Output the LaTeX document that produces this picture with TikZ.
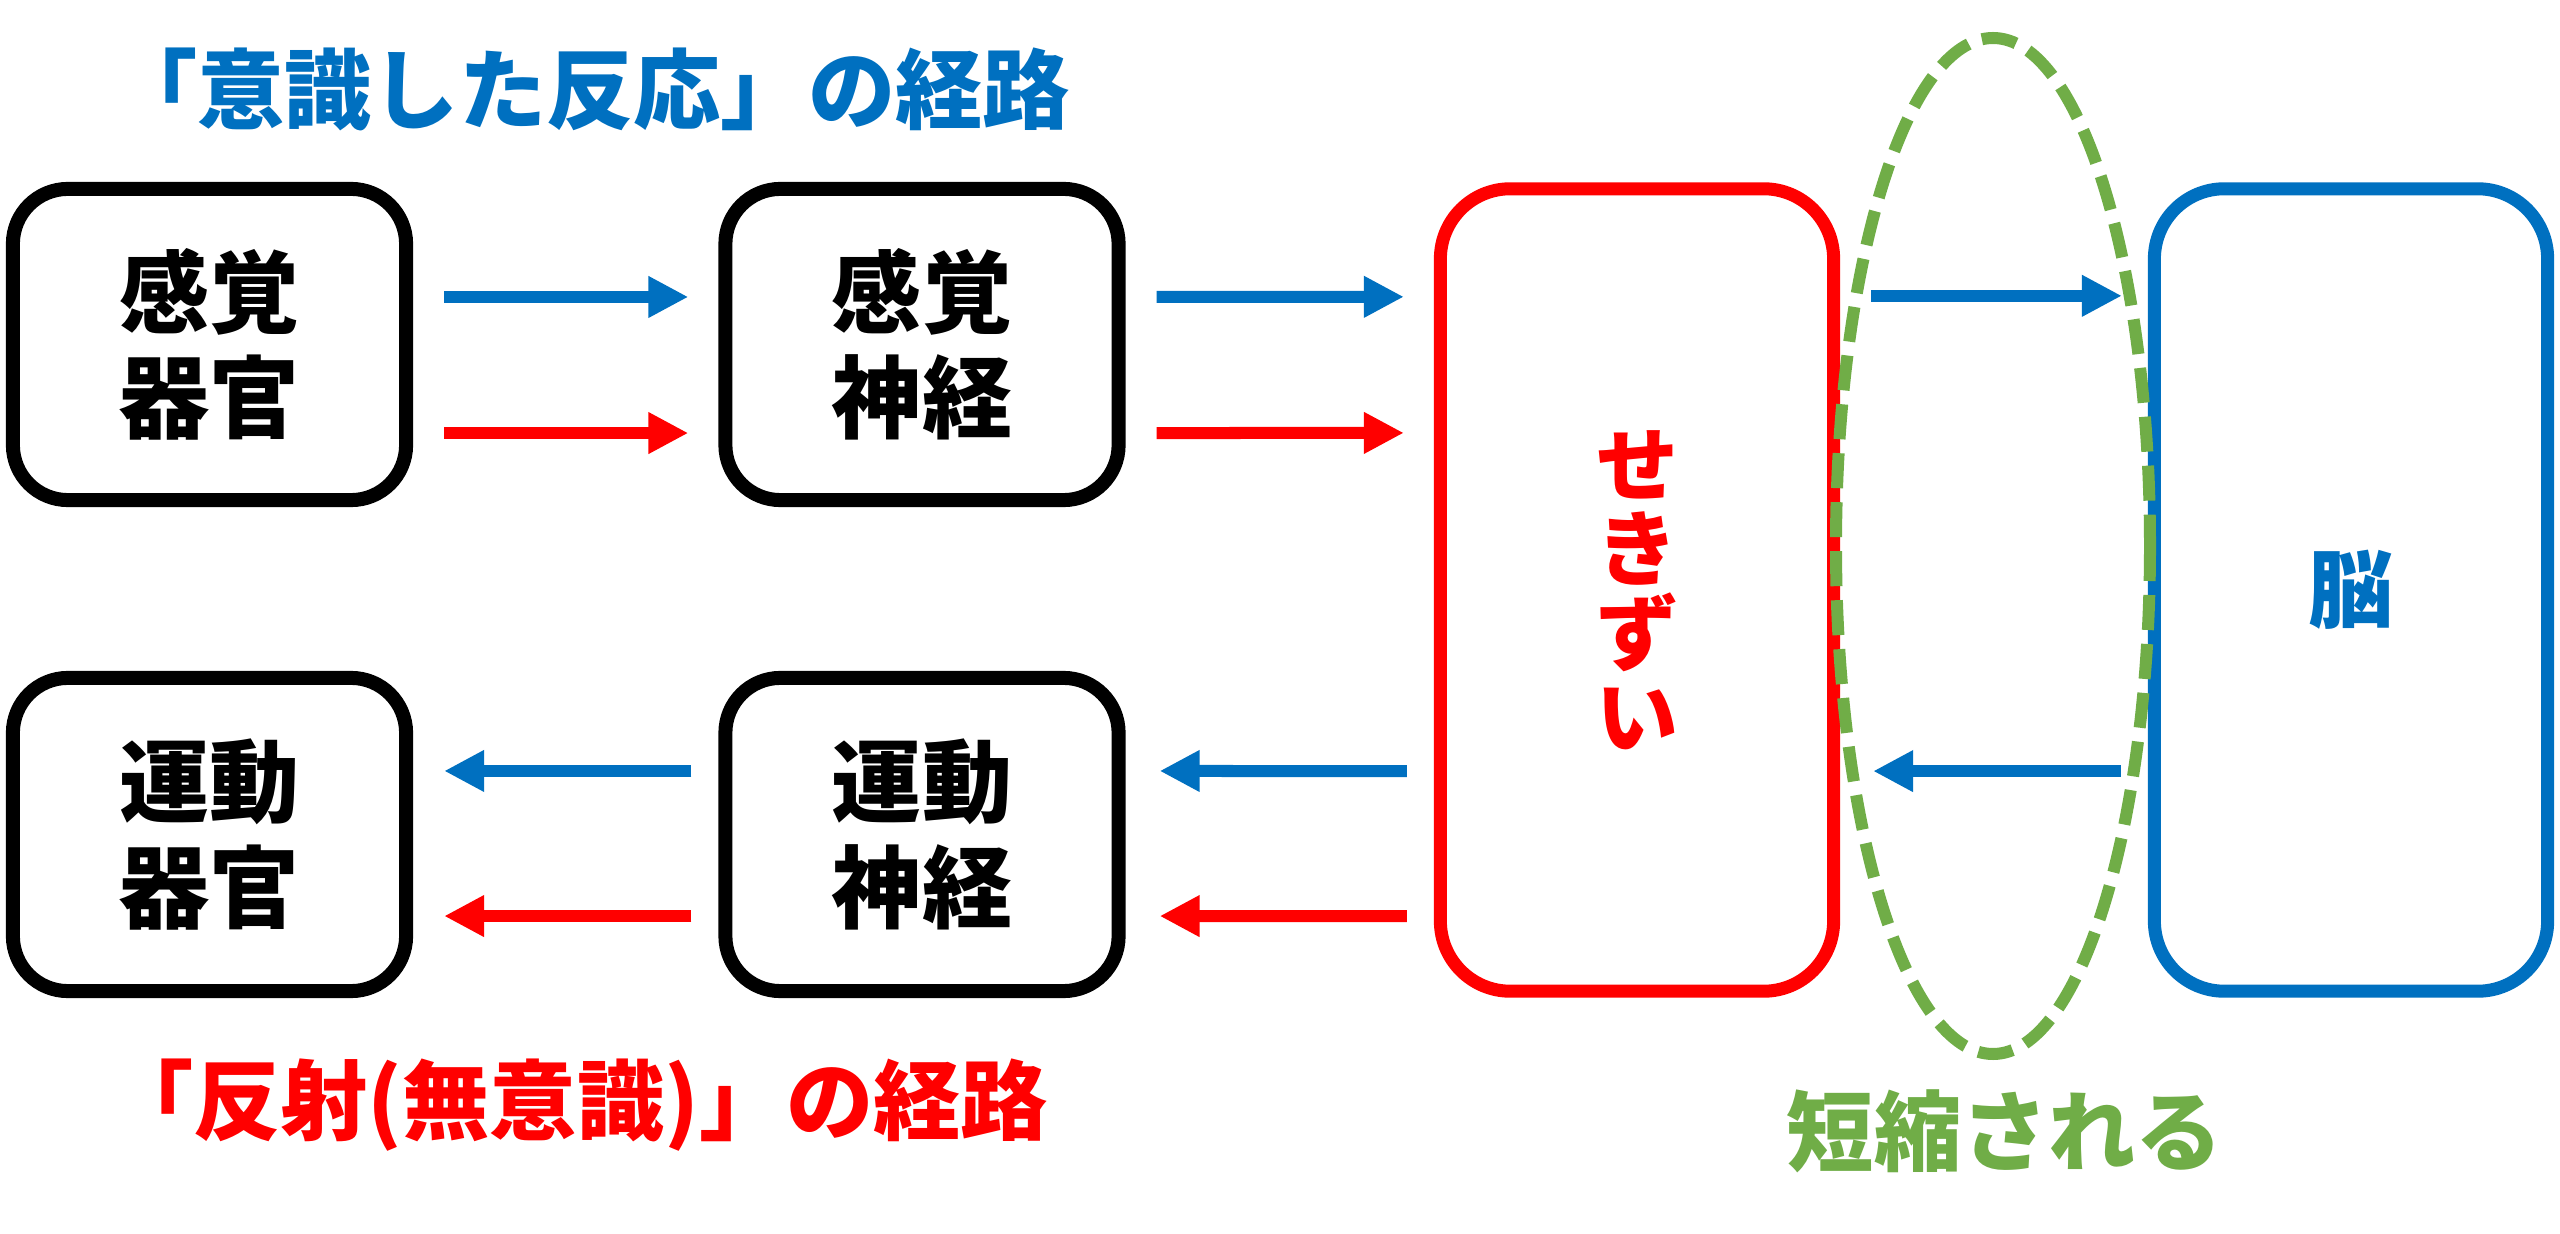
\documentclass[tikz,border=0pt]{standalone}
\usepackage{fontspec}
\newfontfamily\jp{Noto Sans CJK JP}
\usetikzlibrary{arrows.meta}
\definecolor{oblue}{RGB}{0,112,192}
\definecolor{ored}{RGB}{255,0,0}
\definecolor{ogreen}{RGB}{112,173,71}
\tikzset{
  box/.style={draw, line width=0.14cm, rounded corners=0.55cm, minimum width=3.93cm, minimum height=3.11cm, inner sep=0pt, align=center, font=\jp\bfseries\fontsize{25.6pt}{29.9pt}\selectfont},
  bigbox/.style={draw, line width=0.13cm, rounded corners=0.7cm, minimum width=3.93cm, minimum height=8.02cm, inner sep=0pt, align=center},
  conn/.style={line width=0.12cm, -{Triangle[length=0.40cm,width=0.39cm]}},
  barrow/.style={conn, oblue},
  rarrow/.style={conn, ored},
  caption/.style={inner sep=0pt, font=\jp\bfseries\fontsize{24.8pt}{28pt}\selectfont}
}
\begin{document}
\begin{tikzpicture}[x=0.01cm,y=-0.01cm]
\fill[white] (0,0) rectangle (2560,1234);
\useasboundingbox (0,0) rectangle (2560,1234);

\node[box] (so) at (209.5,344.5) {感覚\\器官};
\node[box] (sn) at (922,344.5) {感覚\\神経};
\node[box, minimum height=3.13cm] (mo) at (209.5,834.5) {運動\\器官};
\node[box, minimum height=3.13cm] (mn) at (922,834.5) {運動\\神経};
\node[bigbox, draw=ored, text=ored, font=\jp\bfseries\fontsize{23.3pt}{23.9pt}\selectfont] (sp) at (1637,590) {せ\\き\\ず\\い};
\node[bigbox, draw=oblue, text=oblue, font=\jp\bfseries\fontsize{24.2pt}{28pt}\selectfont] (br) at (2351,590) {脳};

\node[caption, text=oblue] (t1) at (590,89) {「意識した反応」の経路};
\node[caption, text=ored] (t2) at (577,1105) {「反射(無意識)」の経路};
\node[caption, text=ogreen] (t3) at (2005,1131) {短縮される};

% upper row
\draw[barrow] ([shift={(0.31cm,0.475cm)}]so.east) -- ([shift={(-0.30cm,0.475cm)}]sn.west);
\draw[rarrow] ([shift={(0.31cm,-0.885cm)}]so.east) -- ([shift={(-0.30cm,-0.885cm)}]sn.west);
\draw[barrow] ([shift={(0.31cm,0.475cm)}]sn.east) -- ([shift={(-0.30cm,2.93cm)}]sp.west);
\draw[rarrow] ([shift={(0.31cm,-0.885cm)}]sn.east) -- ([shift={(-0.30cm,1.57cm)}]sp.west);
\draw[barrow] ([shift={(0.31cm,2.94cm)}]sp.east) -- ([shift={(-0.26cm,2.94cm)}]br.west);
% lower row
\draw[barrow] ([shift={(-0.27cm,-1.81cm)}]br.west) -- ([shift={(0.33cm,-1.81cm)}]sp.east);
\draw[barrow] ([shift={(-0.27cm,-1.81cm)}]sp.west) -- ([shift={(0.34cm,0.635cm)}]mn.east);
\draw[rarrow] ([shift={(-0.27cm,-3.26cm)}]sp.west) -- ([shift={(0.34cm,-0.815cm)}]mn.east);
\draw[barrow] ([shift={(-0.27cm,0.635cm)}]mn.west) -- ([shift={(0.31cm,0.635cm)}]mo.east);
\draw[rarrow] ([shift={(-0.27cm,-0.815cm)}]mn.west) -- ([shift={(0.31cm,-0.815cm)}]mo.east);

% shortened region
\draw[ogreen, line width=0.12cm, dash pattern=on 0.35cm off 0.14cm] (1993,546) ellipse [x radius=157, y radius=508];
\end{tikzpicture}
\end{document}
